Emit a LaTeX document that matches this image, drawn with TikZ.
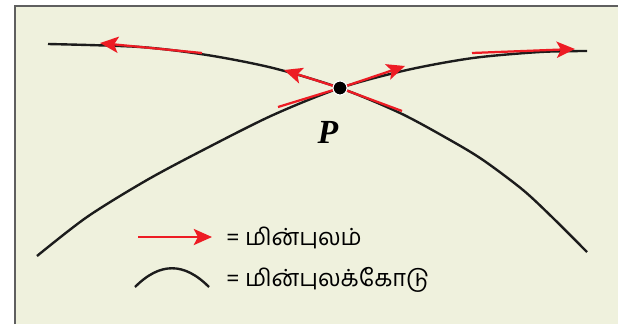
\documentclass[tikz,border=0pt]{standalone}
\usepackage{fontspec}
\usepackage{xcolor}
\usepackage{tikz}
\usetikzlibrary{arrows.meta}
\newfontfamily\tamilfont[Script=Tamil]{Hind Madurai}
\newfontfamily\pointfont{Liberation Serif}
\definecolor{fieldRed}{RGB}{237, 28, 36}
\definecolor{lineBlack}{RGB}{28, 28, 28}
\definecolor{panelColor}{RGB}{239, 241, 221}
\definecolor{frameColor}{RGB}{95, 95, 95}

\begin{document}
\begin{tikzpicture}[
    x=0.025cm, y=-0.025cm,
    fieldline/.style={draw=lineBlack, line width=1.7pt},
    fieldvec/.style={draw=fieldRed, line width=1.6pt, -{Stealth[length=13pt, width=11.5pt, inset=3pt]}},
    charge/.style={circle, fill=black, draw=white, line width=0.8pt, inner sep=0pt, minimum size=10pt},
    pointlabel/.style={inner sep=0pt, font=\fontsize{24}{28}\selectfont\pointfont\bfseries\itshape},
    legend/.style={anchor=west, inner sep=0pt, font=\fontsize{16.8}{20}\selectfont\tamilfont}
]

% Panel
\useasboundingbox (0,0) rectangle (618,324);
\fill[panelColor] (15,6) rectangle (618,324);
\draw[frameColor, line width=0.9pt] (15,324) -- (15,6) -- (618,6);

% Field lines
\draw[fieldline] plot[smooth] coordinates {(48,44) (140,47) (207,55) (273,68) (340,88) (400,113) (450,140) (483,160) (523,190) (553,218) (587,252)};
\draw[fieldline] plot[smooth] coordinates {(37,256) (87,217) (147,180) (207,148) (273,115) (340,88) (407,70) (473,58) (540,52) (587,51)};

% Coordinates
\coordinate (P) at (340,88);
\coordinate (aFarTail) at (202,53);
\coordinate (aFarTip) at (100,43);
\coordinate (aTail) at (402,111);
\coordinate (aTip) at (284,70);
\coordinate (bTail) at (278,107);
\coordinate (bTip) at (405,66);
\coordinate (bFarTail) at (472,53);
\coordinate (bFarTip) at (575,49);

% Field vectors
\draw[fieldvec] (aFarTail) -- (aFarTip);
\draw[fieldvec] (aTail) -- (P) -- (aTip);
\draw[fieldvec] (bTail) -- (P) -- (bTip);
\draw[fieldvec] (bFarTail) -- (bFarTip);

% Nodes
\node (dot) [charge] at (P) {};
\node (plabel) [pointlabel] at (328,132) {P};

% Legend
\coordinate (legTail) at (138,237);
\coordinate (legTip) at (212,237);
\coordinate (arcLeft) at (135,287);
\coordinate (arcRight) at (209,287);
\draw[fieldvec] (legTail) -- (legTip);
\draw[fieldline] (arcLeft) .. controls (160,262) and (184,262) .. (arcRight);
\node (legfield) [legend] at (226,238) {= மின்புலம்};
\node (legline) [legend] at (226,280) {= மின்புலக்கோடு};

\end{tikzpicture}
\end{document}
